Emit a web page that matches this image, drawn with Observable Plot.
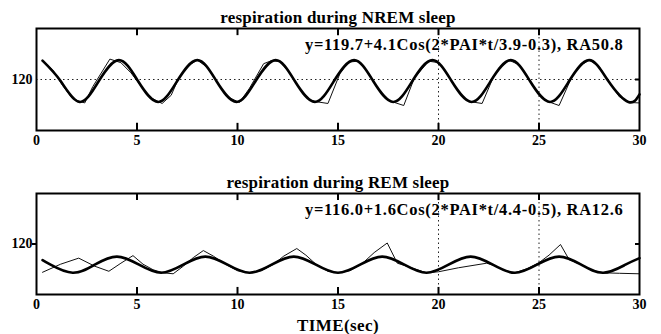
<!DOCTYPE html>
<html><head><meta charset="utf-8">
<script src="https://cdn.jsdelivr.net/npm/d3@7"></script>
<script src="https://cdn.jsdelivr.net/npm/@observablehq/plot@0.6"></script>
<style>
body{margin:0;background:#fff;}
#chart{width:661px;height:334px;overflow:hidden;}
#chart svg{display:block;}
#chart svg text{font-family:"Liberation Serif","Times New Roman",serif;}
</style>
</head><body><div id="chart"></div>
<script>
// ---- data ----
const xTickLabels = [0, 5, 10, 15, 20, 25, 30];
const xInnerTicks = [5, 10, 15, 20, 25];
const xDotted = [20, 25];
const yTickLabels = [120];

const nremTitle = "respiration during NREM sleep";
const nremEquation = "y=119.7+4.1Cos(2*PAI*t/3.9-0.3), RA50.8";
// fitted (thick) curve, NREM
const nremFitT = [0.3,1.2,2.15,3.1,4.1,5.05,6.05,7.0,8.0,8.95,9.95,10.9,11.9,12.85,13.85,14.8,15.8,16.75,17.75,18.7,19.7,20.65,21.65,22.6,23.6,24.55,25.55,26.5,27.5,28.45,29.45,30.0];
const nremFitY = [123.7,119.7,115.6,119.7,123.8,119.7,115.6,119.7,123.8,119.7,115.6,119.7,123.8,119.7,115.6,119.7,123.8,119.7,115.6,119.7,123.8,119.7,115.6,119.7,123.8,119.7,115.6,119.7,123.8,119.7,115.6,117.1];
// measured (thin) curve, NREM
const nremRawT = [0.3,0.8,1.3,1.8,2.4,2.8,3.65,4.2,4.7,5.2,5.7,6.25,6.7,7.0,7.5,8.0,8.5,9.0,9.5,10.1,10.6,11.3,11.7,12.1,12.6,13.1,13.6,14.0,14.5,15.1,15.5,16.0,16.5,17.0,17.5,18.27,18.8,19.5,20.0,20.5,21.0,21.5,22.17,22.7,23.0,23.5,24.0,24.5,25.0,25.5,26.0,26.6,27.0,27.5,28.0,28.5,29.0,29.5,30.0];
const nremRawY = [123.7,121.9,118.8,116.2,115.4,118.6,124.0,123.3,121.3,118.7,116.4,115.3,116.9,119.6,122.6,123.8,122.4,119.4,116.6,115.5,118.3,123.1,123.7,123.5,121.3,118.2,116.0,115.6,115.3,121.2,123.4,123.6,121.4,118.2,115.9,114.9,120.3,123.6,123.3,120.7,117.6,115.7,115.3,120.2,122.1,123.8,122.9,120.1,117.0,115.6,114.9,120.2,122.6,123.8,122.5,119.4,116.6,115.5,115.4];

const remTitle = "respiration during REM sleep";
const remEquation = "y=116.0+1.6Cos(2*PAI*t/4.4-0.5), RA12.6";
// fitted (thick) curve, REM
const remFitT = [0.3,0.7,1.8,2.9,4.0,5.1,6.2,7.3,8.4,9.5,10.6,11.7,12.8,13.9,15.0,16.1,17.2,18.3,19.4,20.5,21.6,22.7,23.8,24.9,26.0,27.1,28.2,29.3,30.0];
const remFitY = [116.8,115.9,114.3,115.9,117.5,115.9,114.3,115.9,117.5,115.9,114.3,115.9,117.5,115.9,114.3,115.9,117.5,115.9,114.3,115.9,117.5,115.9,114.3,115.9,117.5,115.9,114.3,115.9,117.2];
// measured (thin) curve, REM
const remRawT = [0.3,1.2,2.1,2.9,3.6,4.2,4.8,5.3,5.8,6.3,6.8,7.3,7.8,8.3,8.8,9.4,10.0,10.6,11.2,11.8,12.3,12.95,13.4,13.9,14.5,15.0,15.6,16.2,16.8,17.45,17.95,18.5,19.4,20.0,21.0,22.4,22.8,23.3,23.8,24.4,25.0,25.5,26.07,26.5,27.1,27.6,28.2,29.0,30.0];
const remRawY = [114.4,116.0,117.2,115.6,114.6,116.2,117.7,116.0,114.9,114.3,114.1,115.6,117.3,118.7,117.6,116.0,114.7,114.3,114.7,116.0,117.6,119.1,117.8,116.0,114.6,114.3,114.7,116.1,118.3,120.2,116.2,115.5,114.3,114.5,115.3,116.2,115.7,114.7,114.3,115.1,116.3,117.8,119.9,116.9,115.9,114.8,114.3,114.2,114.1];

const xLabel = "TIME(sec)";

// ---- drawing ----
const FONT = "'Liberation Serif', 'Times New Roman', serif";
const zip = (ts, ys) => ts.map((t, i) => ({t, y: ys[i]}));
const txt = {fontFamily: FONT, fontWeight: "bold", fill: "#000"};

function panel({title, equation, fitT, fitY, rawT, rawY, height, marginTop, marginBottom, hGrid, leftTick, axisLabel}) {
  const fit = zip(fitT, fitY);
  const raw = zip(rawT, rawY);
  const tk = 1.4; // inner tick length in y units
  const marks = [
    Plot.ruleY(hGrid ? yTickLabels : [], {stroke: "#222", strokeWidth: 1, strokeDasharray: "1.5,3"}),
    Plot.ruleX(xDotted, {stroke: "#222", strokeWidth: 1, strokeDasharray: "1.5,3"}),
    Plot.line(raw, {x: "t", y: "y", stroke: "#111", strokeWidth: 1}),
    Plot.line(fit, {x: "t", y: "y", stroke: "#000", strokeWidth: 2.6, curve: "natural"}),
    Plot.frame({stroke: "#000", strokeWidth: 2}),
    Plot.ruleX(xInnerTicks, {y1: 130, y2: 130 - tk, stroke: "#000", strokeWidth: 2}),
    Plot.ruleX(xInnerTicks, {y1: 110, y2: 110 + tk, stroke: "#000", strokeWidth: 2}),
    Plot.ruleY(yTickLabels, {x1: 30, x2: 29.8, stroke: "#000", strokeWidth: 2}),
    Plot.ruleY(leftTick ? yTickLabels : [], {x1: -0.2, x2: 0, stroke: "#000", strokeWidth: 2}),
    Plot.axisX(xTickLabels, {anchor: "bottom", tickSize: 0, tickPadding: 5, fontSize: 14, ...txt, label: null}),
    Plot.axisY(yTickLabels, {anchor: "left", tickSize: 0, tickPadding: 4, fontSize: 14, ...txt, label: null}),
    Plot.text([title], {frameAnchor: "top", dy: -11, lineAnchor: "middle", fontSize: 17, ...txt}),
    Plot.text([equation], {frameAnchor: "top-right", textAnchor: "end", dx: -16, dy: 16, lineAnchor: "middle", fontSize: 16.5, ...txt})
  ];
  if (axisLabel) marks.push(Plot.text([axisLabel], {frameAnchor: "bottom", dy: 31, lineAnchor: "middle", fontSize: 17, ...txt}));
  const svg = Plot.plot({
    width: 661, height,
    marginLeft: 36, marginRight: 22, marginTop, marginBottom,
    style: {fontFamily: FONT, background: "#fff", color: "#000", overflow: "visible"},
    x: {domain: [0, 30], axis: null},
    y: {domain: [110, 130], axis: null},
    marks
  });
  // widen letter spacing of the long texts to match the reference's stretched type
  const spacing = new Map([[equation, "0.7px"], [title, "0.2px"], [xLabel, "0.4px"]]);
  d3.select(svg).selectAll("text").each(function () {
    const s = spacing.get(this.textContent);
    if (s) this.style.letterSpacing = s;
  });
  return svg;
}

const chart = document.getElementById("chart");
chart.append(panel({title: nremTitle, equation: nremEquation, fitT: nremFitT, fitY: nremFitY, rawT: nremRawT, rawY: nremRawY,
  height: 161, marginTop: 28, marginBottom: 31, hGrid: true, leftTick: false}));
chart.append(panel({title: remTitle, equation: remEquation, fitT: remFitT, fitY: remFitY, rawT: remRawT, rawY: remRawY,
  height: 173, marginTop: 32, marginBottom: 40, hGrid: false, leftTick: true, axisLabel: xLabel}));
</script>
</body></html>
